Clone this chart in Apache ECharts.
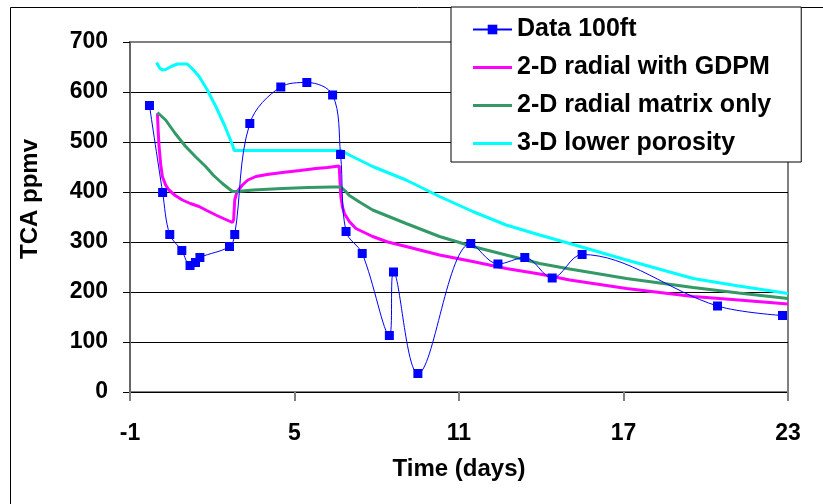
<!DOCTYPE html>
<html>
<head>
<meta charset="utf-8">
<script src="https://cdn.jsdelivr.net/npm/echarts@6/dist/echarts.min.js"></script>
<style>
  html, body { margin: 0; padding: 0; background: #ffffff; }
  #chart { width: 823px; height: 504px; }
</style>
</head>
<body>
<div id="chart"></div>
<script>
// measured data, 100ft well
var dataTime = [-0.29, 0.19, 0.45, 0.89, 1.19, 1.39, 1.55, 2.63, 2.82, 3.37, 4.5, 5.45, 6.39,
  6.68, 6.88, 7.47, 8.46, 8.61, 9.5, 11.43, 12.42, 13.4, 14.4, 15.49, 20.43, 22.8];
var dataTca = [573, 399, 315, 283, 253, 259, 269, 291, 315, 537, 610, 619, 594,
  475, 321, 277, 113, 240, 37, 297, 256, 269, 228, 275, 172, 153];

// 2-D radial with GDPM
var gdpmTime = [0, 0.03, 0.06, 0.12, 0.18, 0.3, 0.42, 0.65, 0.91, 1.2, 1.52, 1.8, 2.13, 2.45, 2.74,
  2.78, 2.82, 2.9, 3.1, 3.3, 3.59, 4.0, 4.56, 5.2, 5.78, 6.2, 6.63, 6.66, 6.69, 6.75, 6.82, 7.0,
  7.24, 7.85, 8.4, 9.07, 10.29, 11.5, 12.72, 13.94, 15.04, 17.11, 19.54, 21.2, 23];
var gdpmTca = [557, 520, 491, 455, 431, 414, 404, 393, 384, 377, 371, 363, 354, 346, 339,
  345, 384, 400, 414, 424, 431, 435, 439, 443, 447, 449, 452, 420, 391, 370, 357, 341,
  327, 311, 300, 291, 274, 261, 247, 236, 224, 207, 191, 184, 176];

// 2-D radial matrix only
var matrixTime = [0, 0.3, 0.65, 1.03, 1.4, 1.76, 2.05, 2.37, 2.6, 2.74, 2.9, 3.5, 4.56, 5.5, 6.39,
  6.69, 6.85, 7.0, 7.37, 7.85, 9.07, 10.29, 11.5, 12.72, 13.94, 15.04, 17.11, 19.54, 21.2, 23];
var matrixTca = [559, 544, 517, 491, 470, 451, 433, 417, 407, 401, 401, 404, 407, 409, 410,
  410, 402, 393, 380, 364, 337, 311, 291, 274, 257, 246, 227, 209, 198, 187];

// 3-D lower porosity
var poroTime = [-0.03, 0.08, 0.18, 0.3, 0.5, 0.73, 1.09, 1.3, 1.52, 1.8, 2.13, 2.45, 2.74, 2.8,
  4, 5.5, 6.7, 7.0, 7.85, 9.07, 10.29, 11.5, 12.72, 13.94, 15.04, 17.11, 19.54, 21.2, 23];
var poroTca = [659, 648, 644, 645, 651, 656, 656, 645, 631, 606, 571, 533, 494, 483,
  483, 483, 483, 474, 451, 424, 391, 361, 334, 314, 297, 264, 227, 212, 197];

var seriesNames = ['Data 100ft', '2-D radial with GDPM', '2-D radial matrix only', '3-D lower porosity'];

function pairs(xs, ys) {
  var out = [];
  for (var i = 0; i < xs.length; i++) {
    out.push([xs[i], ys[i]]);
  }
  return out;
}

var chart = echarts.init(document.getElementById('chart'), null, { renderer: 'canvas' });

var font = 'Liberation Sans, Arial, sans-serif';
// plain bar used as legend icon for the model curves
var barIcon = 'path://M0,0h39v3h-39z';

var option = {
  backgroundColor: '#ffffff',
  animation: false,
  grid: {
    left: 130,
    right: 35,
    top: 42,
    bottom: 112,
    show: true,
    borderColor: '#808080',
    borderWidth: 2,
    backgroundColor: 'transparent'
  },
  legend: {
    orient: 'vertical',
    left: 451,
    top: 7,
    padding: [10, 30, 6, 21],
    itemWidth: 39,
    itemHeight: 12,
    itemGap: 13,
    symbolKeepAspect: true,
    backgroundColor: '#ffffff',
    borderColor: '#000000',
    borderWidth: 1,
    borderRadius: 0,
    data: [
      { name: seriesNames[0] },
      { name: seriesNames[1], icon: barIcon },
      { name: seriesNames[2], icon: barIcon },
      { name: seriesNames[3], icon: barIcon }
    ],
    textStyle: {
      fontFamily: font,
      fontWeight: 'bold',
      fontSize: 25,
      color: '#000000'
    }
  },
  xAxis: {
    type: 'value',
    min: -1,
    max: 23,
    interval: 6,
    name: 'Time (days)',
    nameLocation: 'middle',
    nameGap: 65,
    nameTextStyle: { fontFamily: font, fontWeight: 'bold', fontSize: 24, color: '#000' },
    axisLine: { show: true, onZero: false, lineStyle: { color: '#000', width: 1 } },
    axisTick: { show: true, length: 9, lineStyle: { color: '#808080', width: 2 } },
    axisLabel: { margin: 30, fontFamily: font, fontWeight: 'bold', fontSize: 23, color: '#000' },
    splitLine: { show: false }
  },
  yAxis: {
    type: 'value',
    min: 0,
    max: 700,
    interval: 100,
    axisLine: { show: true, onZero: false, lineStyle: { color: '#666', width: 2 } },
    axisTick: { show: true, length: 7, lineStyle: { color: '#000', width: 1 } },
    axisLabel: { margin: 22, fontFamily: font, fontWeight: 'bold', fontSize: 23, color: '#000' },
    splitLine: {
      show: true,
      lineStyle: {
        color: ['#000', '#000', '#000', '#000', '#000', '#000', '#000', '#808080'],
        width: 1
      }
    }
  },
  graphic: [
    {
      type: 'rect',
      silent: true,
      z: -10,
      shape: { x: 10.5, y: 7.5, width: 830, height: 520 },
      style: { fill: 'none', stroke: '#000', lineWidth: 1 }
    },
    {
      // y axis title
      type: 'text',
      silent: true,
      x: 30,
      y: 199,
      rotation: Math.PI / 2,
      style: {
        text: 'TCA ppmv',
        fontFamily: font,
        fontWeight: 'bold',
        fontSize: 24,
        fill: '#000',
        align: 'center',
        verticalAlign: 'middle'
      }
    }
  ],
  series: [
    {
      name: seriesNames[0],
      type: 'line',
      data: pairs(dataTime, dataTca),
      smooth: 0.35,
      symbol: 'rect',
      symbolSize: 9,
      z: 5,
      itemStyle: { color: '#0000ff' },
      lineStyle: { color: '#0000ff', width: 1 }
    },
    {
      name: seriesNames[1],
      type: 'line',
      data: pairs(gdpmTime, gdpmTca),
      symbol: 'none',
      z: 3,
      itemStyle: { color: '#ff00ff' },
      lineStyle: { color: '#ff00ff', width: 3 }
    },
    {
      name: seriesNames[2],
      type: 'line',
      data: pairs(matrixTime, matrixTca),
      symbol: 'none',
      z: 3,
      itemStyle: { color: '#339966' },
      lineStyle: { color: '#339966', width: 3 }
    },
    {
      name: seriesNames[3],
      type: 'line',
      data: pairs(poroTime, poroTca),
      symbol: 'none',
      z: 3,
      itemStyle: { color: '#00ffff' },
      lineStyle: { color: '#00ffff', width: 3 }
    }
  ]
};

chart.setOption(option);
</script>
</body>
</html>
